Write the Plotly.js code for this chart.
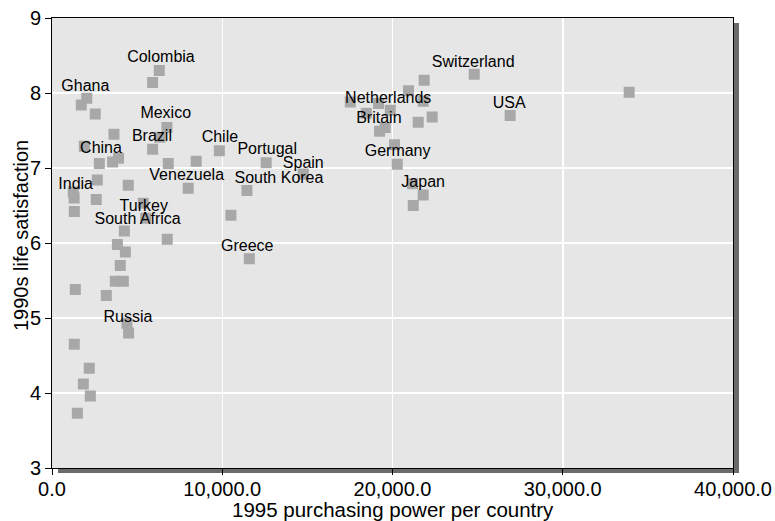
<!DOCTYPE html>
<html>
<head>
<meta charset="utf-8">
<script src="https://cdn.plot.ly/plotly-3.0.1.min.js"></script>
<style>html,body{margin:0;padding:0;background:#fff;}#chart{width:775px;height:521px;}</style>
</head>
<body>
<div id="chart"></div>
<script>
// purchasing power (x) and life satisfaction (y) per country
const ppp = [6300, 5910, 2040, 1720, 2540, 6750, 3640, 6340, 5910, 9830,
  1900, 2780, 3560, 3910, 6830, 8470, 8000, 11450, 2660, 1250,
  1300, 2600, 4480, 1310, 5360, 5500, 4250, 6770, 10510, 3840,
  4310, 4010, 3720, 4190, 1370, 3190, 11590, 4400, 4500, 1310,
  2190, 1840, 2250, 1490, 12580, 14760, 21860, 24800, 20940, 17520,
  21800, 19180, 19870, 18460, 22330, 21510, 19570, 19240, 20120, 20280,
  21180, 21800, 21220, 26910, 33900];
const satisfaction = [8.30, 8.14, 7.93, 7.84, 7.72, 7.54, 7.45, 7.41, 7.25, 7.23,
  7.29, 7.06, 7.08, 7.13, 7.06, 7.09, 6.73, 6.70, 6.84, 6.68,
  6.60, 6.58, 6.77, 6.42, 6.53, 6.33, 6.16, 6.05, 6.37, 5.98,
  5.88, 5.70, 5.49, 5.49, 5.38, 5.30, 5.79, 4.93, 4.80, 4.65,
  4.33, 4.12, 3.96, 3.73, 7.07, 6.92, 8.17, 8.25, 8.03, 7.88,
  7.89, 7.86, 7.77, 7.73, 7.68, 7.61, 7.54, 7.49, 7.31, 7.05,
  6.79, 6.64, 6.50, 7.70, 8.01];

// country labels and where they sit (data units)
const labelNames = ["Colombia", "Ghana", "Mexico", "Brazil", "Chile", "China", "India",
  "Venezuela", "Portugal", "Spain", "South Korea", "Greece", "Turkey", "South Africa",
  "Russia", "Netherlands", "Britain", "Germany", "Japan", "Switzerland", "USA"];
const labelX = [6400, 1960, 6680, 5870, 9860, 2880, 1390,
  7910, 12640, 14760, 13330, 11470, 5390, 5030,
  4460, 19750, 19200, 20300, 21800, 24740, 26850];
const labelY = [8.47, 8.08, 7.72, 7.41, 7.40, 7.25, 6.77,
  6.89, 7.24, 7.05, 6.85, 5.95, 6.48, 6.31,
  5.00, 7.92, 7.66, 7.21, 6.80, 8.40, 7.86];

const xTicks = [0, 10000, 20000, 30000, 40000];
const yTicks = [3, 4, 5, 6, 7, 8, 9];
const xTitle = "1995 purchasing power per country";
const yTitle = "1990s life satisfaction";

const FONT = "Liberation Sans, Arial, Helvetica, sans-serif";

const traces = [
  {
    type: "scatter", mode: "markers", x: ppp, y: satisfaction,
    marker: {symbol: "square", size: 11, color: "#a8a8a8", line: {width: 0}},
    hoverinfo: "x+y", showlegend: false, cliponaxis: false
  },
  {
    type: "scatter", mode: "text", x: labelX, y: labelY, text: labelNames,
    textposition: "middle center",
    textfont: {family: FONT, size: 16, color: "#000"},
    hoverinfo: "text", showlegend: false, cliponaxis: false
  }
];

const dx = 6 / 681, dy = 5 / 450;
const layout = {
  width: 775, height: 521,
  margin: {l: 52, r: 42, t: 18, b: 53, pad: 0},
  paper_bgcolor: "#ffffff",
  plot_bgcolor: "#e6e6e6",
  font: {family: FONT, color: "#000"},
  showlegend: false,
  xaxis: {
    range: [0, 40000], tickvals: xTicks, tickformat: ",.1f",
    showgrid: true, gridcolor: "#ffffff", gridwidth: 1.5, zeroline: false,
    showline: true, linecolor: "#000", linewidth: 1, mirror: true,
    ticks: "outside", ticklen: 6, tickcolor: "#000", tickwidth: 1,
    ticklabelstandoff: -3,
    tickfont: {family: FONT, size: 20, color: "#000"},
    fixedrange: true, automargin: false
  },
  yaxis: {
    range: [3, 9], tickvals: yTicks,
    showgrid: true, gridcolor: "#ffffff", gridwidth: 1.5, zeroline: false,
    showline: true, linecolor: "#000", linewidth: 1, mirror: true,
    ticks: "outside", ticklen: 6, tickcolor: "#000", tickwidth: 1,
    tickfont: {family: FONT, size: 20, color: "#000"},
    fixedrange: true, automargin: false
  },
  annotations: [
    {text: xTitle, xref: "paper", yref: "paper", x: 0.5, y: 0, xanchor: "center", yanchor: "middle",
     yshift: -41, showarrow: false, font: {family: FONT, size: 20.5, color: "#000"}},
    {text: yTitle, xref: "paper", yref: "paper", x: 0, y: 0.5, xanchor: "center", yanchor: "middle",
     xshift: -31, yshift: 7, textangle: -90, showarrow: false, font: {family: FONT, size: 20, color: "#000"}}
  ],
  shapes: [
    {type: "rect", xref: "paper", yref: "paper", x0: 1, x1: 1 + dx, y0: -dy, y1: 1 - dy,
     fillcolor: "#6b6b6b", line: {width: 0}, layer: "below"},
    {type: "rect", xref: "paper", yref: "paper", x0: dx, x1: 1 + dx, y0: -dy, y1: 0,
     fillcolor: "#6b6b6b", line: {width: 0}, layer: "below"}
  ]
};

Plotly.newPlot("chart", traces, layout, {displayModeBar: false, staticPlot: true});
</script>
</body>
</html>
